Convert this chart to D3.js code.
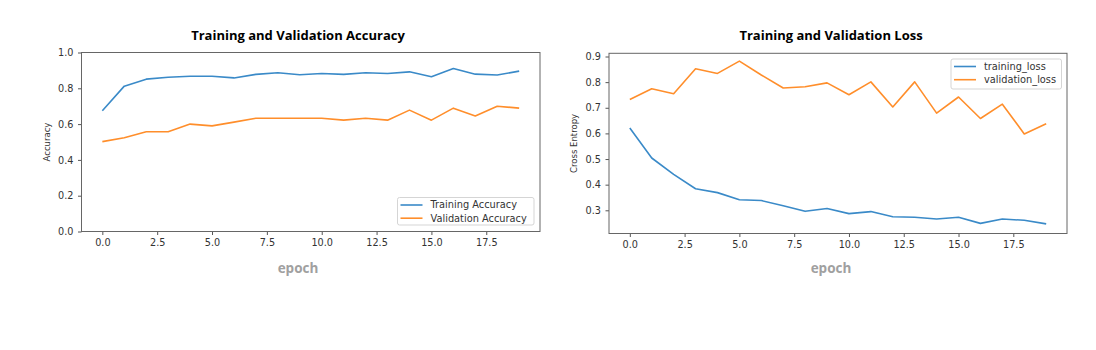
<!DOCTYPE html>
<html><head><meta charset="utf-8">
<script src="https://cdn.jsdelivr.net/npm/d3@7"></script>
<style>
html,body{margin:0;padding:0;background:#fff;}
svg{display:block;}
</style></head>
<body>
<svg id="chart" width="1096" height="350"></svg>
<script>
const epochs = [0,1,2,3,4,5,6,7,8,9,10,11,12,13,14,15,16,17,18,19];
const trainingAccuracy = [0.675,0.812,0.851,0.862,0.867,0.867,0.858,0.878,0.887,0.876,0.883,0.878,0.887,0.883,0.892,0.865,0.911,0.879,0.874,0.896];
const validationAccuracy = [0.502,0.524,0.557,0.557,0.600,0.590,0.611,0.633,0.633,0.633,0.633,0.622,0.633,0.622,0.678,0.622,0.689,0.645,0.700,0.689];
const trainingLoss = [0.621,0.504,0.440,0.384,0.369,0.341,0.338,0.318,0.296,0.307,0.287,0.295,0.275,0.273,0.266,0.273,0.249,0.266,0.261,0.247];
const validationLoss = [0.732,0.774,0.755,0.852,0.834,0.882,0.828,0.777,0.782,0.797,0.751,0.801,0.703,0.801,0.679,0.742,0.658,0.714,0.598,0.638];
const xTicks = [0,2.5,5,7.5,10,12.5,15,17.5];
const accTicks = [0,0.2,0.4,0.6,0.8,1.0];
const lossTicks = [0.3,0.4,0.5,0.6,0.7,0.8,0.9];

const BLUE = "#3a8ac8", ORANGE = "#ff8e2b";
const svg = d3.select("#chart");

function panel(opt){
  const g = svg.append("g");
  const x = d3.scaleLinear().domain([-0.95, 19.95]).range([opt.left, opt.right]);
  const y = d3.scaleLinear().domain(opt.yDomain).range([opt.bottom, opt.top]);

  const xa = g.append("g").attr("transform", `translate(0,${opt.bottom})`)
    .call(d3.axisBottom(x).tickValues(xTicks).tickFormat(d3.format(".1f")).tickSize(3.5).tickPadding(4.5));
  const ya = g.append("g").attr("transform", `translate(${opt.left},0)`)
    .call(d3.axisLeft(y).tickValues(opt.yTicks).tickFormat(d3.format(".1f")).tickSize(3.5).tickPadding(4.5));
  [xa, ya].forEach(a => {
    a.select(".domain").remove();
    a.selectAll(".tick line").attr("stroke", "#555");
    a.selectAll(".tick text").attr("fill", "#333").style("font-family", "DejaVu Sans").style("font-size", "9.7px");
  });

  g.append("rect").attr("x", opt.left).attr("y", opt.top)
    .attr("width", opt.right - opt.left).attr("height", opt.bottom - opt.top)
    .attr("fill", "none").attr("stroke", "#666").attr("stroke-width", 1);

  const line = d3.line().x((d,i) => x(epochs[i])).y(d => y(d));
  opt.series.forEach(s => {
    g.append("path").datum(s.values).attr("d", line)
      .attr("fill", "none").attr("stroke", s.color).attr("stroke-width", 1.6)
      .attr("stroke-linejoin", "round");
  });

  const cy = (opt.top + opt.bottom) / 2;
  g.append("text").attr("transform", `translate(${opt.ylabelX},${cy}) rotate(-90)`)
    .attr("text-anchor", "middle").attr("dy", "0.35em")
    .style("font-family", "DejaVu Sans").style("font-size", "8.5px").attr("fill", "#333")
    .text(opt.ylabel);

  g.append("text").attr("x", opt.titleX).attr("y", 40).attr("text-anchor", "middle")
    .style("font-family", "Open Sans").style("font-weight", "700").style("font-size", "13px")
    .attr("fill", "#000").text(opt.title);

  g.append("text").attr("x", opt.titleX).attr("y", 273).attr("text-anchor", "middle")
    .style("font-family", "Open Sans").style("font-weight", "700").style("font-size", "13.5px")
    .attr("fill", "#a0a0a0").text("epoch");

  const L = opt.legend;
  const lg = g.append("g");
  lg.append("rect").attr("x", L.x).attr("y", L.y).attr("width", L.w).attr("height", L.h)
    .attr("rx", 2).attr("fill", "#fff").attr("fill-opacity", 0.85).attr("stroke", "#d5d5d5");
  opt.series.forEach((s, i) => {
    const ry = L.y + 7.5 + i * 13.2;
    lg.append("line").attr("x1", L.x + 3).attr("x2", L.x + 25).attr("y1", ry).attr("y2", ry)
      .attr("stroke", s.color).attr("stroke-width", 1.6);
    lg.append("text").attr("x", L.x + 33).attr("y", ry).attr("dy", "0.35em")
      .style("font-family", "DejaVu Sans").style("font-size", "9.8px").attr("fill", "#333")
      .text(s.name);
  });
}

panel({
  left: 81.5, right: 540, top: 52.5, bottom: 231.5,
  yDomain: [0, 1], yTicks: accTicks, ylabel: "Accuracy", ylabelX: 47,
  title: "Training and Validation Accuracy", titleX: 298,
  series: [
    {name: "Training Accuracy", values: trainingAccuracy, color: BLUE},
    {name: "Validation Accuracy", values: validationAccuracy, color: ORANGE}
  ],
  legend: {x: 397.5, y: 197.5, w: 136.5, h: 27.5}
});

panel({
  left: 609, right: 1067, top: 53.3, bottom: 233.5,
  yDomain: [0.2095, 0.9125], yTicks: lossTicks, ylabel: "Cross Entropy", ylabelX: 574,
  title: "Training and Validation Loss", titleX: 831,
  series: [
    {name: "training_loss", values: trainingLoss, color: BLUE},
    {name: "validation_loss", values: validationLoss, color: ORANGE}
  ],
  legend: {x: 951, y: 59, w: 110.5, h: 30}
});
</script>
</body></html>
